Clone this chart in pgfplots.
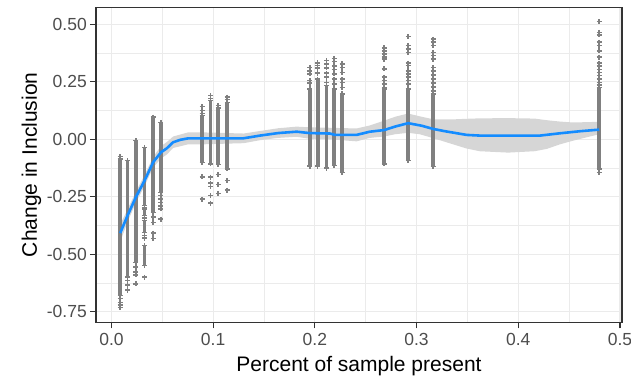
\documentclass[border=0pt]{standalone}
\usepackage{pgfplots}
\pgfplotsset{compat=1.18}
\usepackage{pgfplotstable}
\usepackage{fontspec}
\setmainfont{Liberation Sans}
\definecolor{gridc}{HTML}{EBEBEB}
\definecolor{framec}{HTML}{333333}
\definecolor{tickc}{HTML}{4D4D4D}
\definecolor{ptc}{HTML}{808080}
\definecolor{bandc}{HTML}{D6D6D6}
\definecolor{linec}{RGB}{20,140,255}

% solid parts of each column (segments separated by nan)
\pgfplotstableread{
x y
0.0086 -0.086
0.0086 -0.680
nan nan
0.0158 -0.093
0.0158 -0.600
nan nan
0.0240 -0.006
0.0240 -0.535
nan nan
0.0325 -0.035
0.0325 -0.289
nan nan
0.0325 -0.303
0.0325 -0.332
nan nan
0.0325 -0.354
0.0325 -0.405
nan nan
0.0325 -0.463
0.0325 -0.550
nan nan
0.0410 0.096
0.0410 -0.318
nan nan
0.0486 0.074
0.0486 -0.231
nan nan
0.0892 0.103
0.0892 -0.100
nan nan
0.0974 0.168
0.0974 -0.107
nan nan
0.1049 0.135
0.1049 -0.110
nan nan
0.1138 0.160
0.1138 -0.129
nan nan
0.1951 0.219
0.1951 -0.117
nan nan
0.2027 0.262
0.2027 -0.117
nan nan
0.2115 0.233
0.2115 -0.126
nan nan
0.2190 0.219
0.2190 -0.115
nan nan
0.2268 0.197
0.2268 -0.144
nan nan
0.2681 0.219
0.2681 -0.107
nan nan
0.2917 0.219
0.2917 -0.093
nan nan
0.3163 0.197
0.3163 -0.119
nan nan
0.4796 0.226
0.4796 -0.129
}\segs

% individual points
\pgfplotstableread{
x y
0.0086 -0.074
0.0086 -0.086
0.0086 -0.680
0.0086 -0.692
0.0086 -0.709
0.0086 -0.720
0.0086 -0.731
0.0158 -0.093
0.0158 -0.600
0.0158 -0.615
0.0158 -0.634
0.0158 -0.656
0.0240 -0.006
0.0240 -0.535
0.0240 -0.556
0.0240 -0.578
0.0240 -0.590
0.0240 -0.629
0.0325 -0.035
0.0325 -0.289
0.0325 -0.296
0.0325 -0.303
0.0325 -0.332
0.0325 -0.343
0.0325 -0.354
0.0325 -0.405
0.0325 -0.418
0.0325 -0.430
0.0325 -0.463
0.0325 -0.550
0.0325 -0.600
0.0410 0.096
0.0410 -0.318
0.0410 -0.339
0.0410 -0.361
0.0410 -0.408
0.0410 -0.431
0.0486 0.074
0.0486 -0.231
0.0486 -0.245
0.0486 -0.260
0.0486 -0.275
0.0486 -0.290
0.0486 -0.303
0.0486 -0.347
0.0892 0.142
0.0892 0.125
0.0892 0.113
0.0892 0.103
0.0892 -0.100
0.0892 -0.163
0.0892 -0.260
0.0974 0.190
0.0974 0.178
0.0974 0.168
0.0974 -0.107
0.0974 -0.165
0.0974 -0.191
0.0974 -0.206
0.0974 -0.245
0.0974 -0.278
0.1049 0.146
0.1049 0.135
0.1049 -0.110
0.1049 -0.154
0.1049 -0.197
0.1049 -0.235
0.1138 0.183
0.1138 0.172
0.1138 0.160
0.1138 -0.129
0.1138 -0.180
0.1138 -0.221
0.1951 0.313
0.1951 0.298
0.1951 0.284
0.1951 0.255
0.1951 0.244
0.1951 0.219
0.1951 -0.117
0.2027 0.332
0.2027 0.320
0.2027 0.309
0.2027 0.288
0.2027 0.262
0.2027 -0.117
0.2115 0.342
0.2115 0.328
0.2115 0.310
0.2115 0.288
0.2115 0.270
0.2115 0.248
0.2115 0.233
0.2115 -0.126
0.2190 0.352
0.2190 0.338
0.2190 0.318
0.2190 0.303
0.2190 0.284
0.2190 0.262
0.2190 0.241
0.2190 0.219
0.2190 -0.115
0.2268 0.328
0.2268 0.313
0.2268 0.291
0.2268 0.262
0.2268 0.248
0.2268 0.226
0.2268 0.197
0.2268 -0.144
0.2681 0.397
0.2681 0.385
0.2681 0.371
0.2681 0.357
0.2681 0.349
0.2681 0.306
0.2681 0.270
0.2681 0.255
0.2681 0.241
0.2681 0.226
0.2681 0.219
0.2681 -0.107
0.2917 0.446
0.2917 0.407
0.2917 0.393
0.2917 0.378
0.2917 0.331
0.2917 0.320
0.2917 0.298
0.2917 0.284
0.2917 0.270
0.2917 0.255
0.2917 0.241
0.2917 0.219
0.2917 -0.093
0.3163 0.436
0.3163 0.422
0.3163 0.407
0.3163 0.378
0.3163 0.364
0.3163 0.349
0.3163 0.313
0.3163 0.297
0.3163 0.280
0.3163 0.262
0.3163 0.245
0.3163 0.227
0.3163 0.211
0.3163 0.197
0.3163 -0.119
0.4796 0.512
0.4796 0.465
0.4796 0.454
0.4796 0.422
0.4796 0.407
0.4796 0.385
0.4796 0.357
0.4796 0.331
0.4796 0.318
0.4796 0.303
0.4796 0.291
0.4796 0.277
0.4796 0.262
0.4796 0.248
0.4796 0.236
0.4796 0.226
0.4796 -0.129
0.4796 -0.144
}\pts

% confidence band polygon: upper edge left to right, lower edge right to left
\pgfplotstableread{
x y
0.0086 -0.370
0.0158 -0.305
0.0240 -0.228
0.0325 -0.156
0.0410 -0.077
0.0486 -0.030
0.0545 -0.012
0.0606 0.012
0.0754 0.030
0.0896 0.030
0.1300 0.025
0.1460 0.036
0.1640 0.048
0.1820 0.055
0.1950 0.052
0.2150 0.050
0.2410 0.047
0.2540 0.060
0.2680 0.081
0.2790 0.098
0.2917 0.112
0.3030 0.100
0.3163 0.087
0.3330 0.086
0.3490 0.089
0.3620 0.091
0.3900 0.092
0.4160 0.090
0.4280 0.083
0.4410 0.077
0.4540 0.073
0.4796 0.076
0.4796 0.022
0.4540 -0.006
0.4410 -0.022
0.4280 -0.042
0.4160 -0.052
0.3900 -0.058
0.3620 -0.052
0.3490 -0.040
0.3330 -0.018
0.3163 0.005
0.3030 0.022
0.2917 0.028
0.2790 0.022
0.2680 0.012
0.2540 0.006
0.2410 -0.009
0.2150 0.000
0.1950 0.002
0.1820 0.011
0.1640 0.006
0.1460 -0.004
0.1300 -0.017
0.0896 -0.022
0.0754 -0.022
0.0606 -0.038
0.0545 -0.066
0.0486 -0.084
0.0410 -0.123
0.0325 -0.204
0.0240 -0.276
0.0158 -0.360
0.0086 -0.446
}\band

% fitted smooth line
\pgfplotstableread{
x y
0.0086 -0.408
0.0158 -0.332
0.0240 -0.252
0.0325 -0.180
0.0410 -0.100
0.0486 -0.057
0.0545 -0.039
0.0606 -0.013
0.0680 -0.002
0.0754 0.004
0.0896 0.004
0.1295 0.004
0.1460 0.016
0.1639 0.027
0.1821 0.033
0.1947 0.027
0.2148 0.025
0.2197 0.019
0.2410 0.019
0.2541 0.033
0.2681 0.040
0.2787 0.055
0.2917 0.070
0.3050 0.059
0.3163 0.045
0.3280 0.035
0.3492 0.019
0.3623 0.016
0.4213 0.016
0.4410 0.026
0.4607 0.035
0.4796 0.042
}\smooth

\begin{document}
\begin{tikzpicture}
\begin{axis}[
  scale only axis,
  width=526bp, height=315bp,
  xmin=-0.0152, xmax=0.502,
  ymin=-0.796, ymax=0.574,
  xtick={0,0.1,0.2,0.3,0.4,0.5},
  xticklabels={0.0,0.1,0.2,0.3,0.4,0.5},
  ytick={-0.75,-0.5,-0.25,0,0.25,0.5},
  yticklabels={-0.75,-0.50,-0.25,0.00,0.25,0.50},
  minor xtick={0.05,0.15,0.25,0.35,0.45},
  minor ytick={-0.625,-0.375,-0.125,0.125,0.375},
  grid=both,
  major grid style={draw=gridc, line width=1.2bp},
  minor grid style={draw=gridc, line width=0.6bp},
  axis line style={draw=framec, line width=1.2bp},
  tick align=outside,
  xtick pos=bottom, ytick pos=left,
  major tick length=6bp,
  minor tick length=0bp,
  tick style={draw=framec, line width=1.1bp},
  tick label style={font=\fontsize{17.5bp}{20bp}\selectfont, text=tickc},
  yticklabel style={inner xsep=3bp},
  xticklabel style={inner ysep=5bp},
  unbounded coords=jump,
  xlabel={Percent of sample present},
  ylabel={Change in Inclusion},
  label style={font=\fontsize{21bp}{24bp}\selectfont, text=black},
  xlabel style={at={(rel axis cs:0.5,-0.1568)}, anchor=base},
  ylabel style={at={(rel axis cs:-0.1122,0.5)}, anchor=base, rotate=0},
]
\addplot[fill=bandc, draw=none] table[x=x, y=y] {\band} -- cycle;
\addplot[draw=ptc, line width=3.8bp, no markers] table[x=x, y=y] {\segs};
\addplot[only marks, mark=+, mark size=2.5bp, mark options={draw=ptc, line width=1.5bp}] table[x=x, y=y] {\pts};
\addplot[draw=linec, line width=2.6bp, no markers, line join=round] table[x=x, y=y] {\smooth};
\end{axis}
\pgfresetboundingbox
\path[use as bounding box] ([shift={(-96bp,-55.7bp)}]current axis.south west) rectangle ([shift={(9bp,7.3bp)}]current axis.north east);
\end{tikzpicture}
\end{document}
